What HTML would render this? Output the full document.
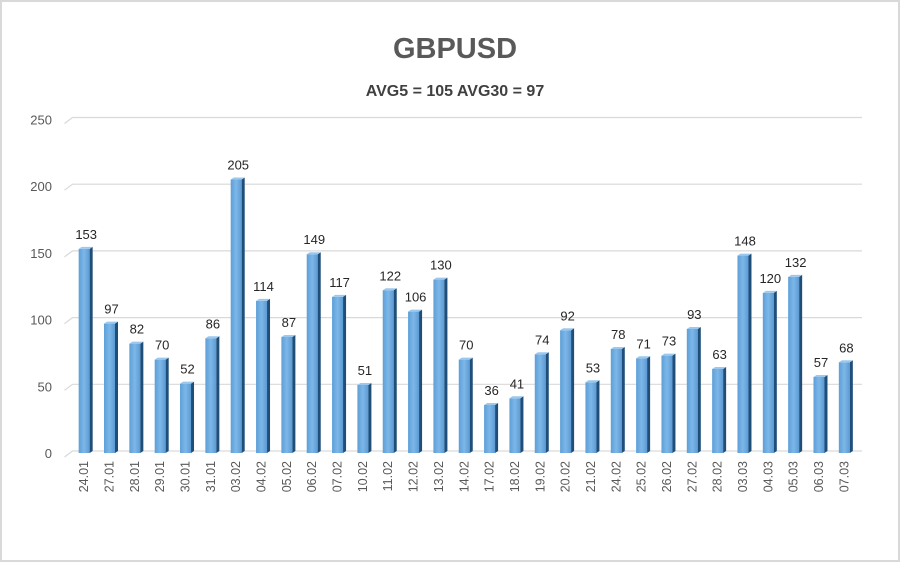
<!DOCTYPE html>
<html><head><meta charset="utf-8"><style>
body{margin:0;background:#fff;}
svg{display:block;font-family:"Liberation Sans",Arial,sans-serif;}
</style></head><body>
<svg id="chart" width="900" height="562" viewBox="0 0 900 562">
<defs>
<linearGradient id="bg" x1="0" x2="1" y1="0" y2="0">
<stop offset="0" stop-color="#5d9fd8"/><stop offset="0.5" stop-color="#7db7e8"/><stop offset="1" stop-color="#5c9ad3"/>
</linearGradient>
</defs>
<rect x="1" y="1" width="898" height="560" fill="#fff" stroke="#d9d9d9" stroke-width="2"/>
<text x="455" y="58" text-anchor="middle" font-size="29" font-weight="bold" fill="#595959">GBPUSD</text>
<text x="455" y="96" text-anchor="middle" font-size="16" font-weight="bold" fill="#404040">AVG5 = 105 AVG30 = 97</text>
<g id="grid"></g><g id="bars"></g><g id="labels"></g>
</svg>
<script>
const categories=["24.01","27.01","28.01","29.01","30.01","31.01","03.02","04.02","05.02","06.02","07.02","10.02","11.02","12.02","13.02","14.02","17.02","18.02","19.02","20.02","21.02","24.02","25.02","26.02","27.02","28.02","03.03","04.03","05.03","06.03","07.03"];
const values=[153,97,82,70,52,86,205,114,87,149,117,51,122,106,130,70,36,41,74,92,53,78,71,73,93,63,148,120,132,57,68];
const yTicks=[0,50,100,150,200,250];
const NS="http://www.w3.org/2000/svg";
const y0=453,pxPerUnit=1.334,x0=71.5,x1=857;
const y=v=>y0-v*pxPerUnit;
const step=(x1-x0)/categories.length;
const x=i=>x0+step*(i+0.5);
function mk(tag,attrs,parent,txt){const e=document.createElementNS(NS,tag);for(const k in attrs)e.setAttribute(k,attrs[k]);if(txt!==undefined)e.textContent=txt;parent.appendChild(e);return e;}
const grid=document.getElementById('grid'),bars=document.getElementById('bars'),labels=document.getElementById('labels');
yTicks.forEach(t=>{
 const g=mk('polyline',{points:`${x0-7},${y(t)+4} ${x0+1},${y(t)-2} ${x1+5},${y(t)-2}`,fill:'none',stroke:'#d9d9d9','stroke-width':1.2},grid);
 
 
 const l=mk('text',{x:52,y:y(t)+5,'text-anchor':'end','font-size':13,fill:'#595959'},grid,String(t));
 
 
});
values.forEach((v,i)=>{
 const cx=x(i),w=11,top=y(v);
 const g=mk('g',{},bars);
 
 
 mk('rect',{x:cx-w/2,y:top,width:w,height:y0-top,fill:'url(#bg)'},g);
 mk('polygon',{points:`${cx+w/2},${top} ${cx+w/2+3},${top-2} ${cx+w/2+3},${y0-2} ${cx+w/2},${y0}`,fill:'#1f4e79'},g);
 mk('polygon',{points:`${cx-w/2},${top} ${cx-w/2+3},${top-2} ${cx+w/2+3},${top-2} ${cx+w/2},${top}`,fill:'#9cc8ee'},g);
 const vl=mk('text',{x:cx+2,y:top-10,'text-anchor':'middle','font-size':13,fill:'#262626'},labels,String(v));
 
 
 const cl=mk('text',{x:0,y:0,'text-anchor':'end','font-size':12.5,fill:'#595959',transform:`translate(${cx+4},${y0+8}) rotate(-90)`},labels,categories[i]);
 
 
});
</script>
</body></html>
